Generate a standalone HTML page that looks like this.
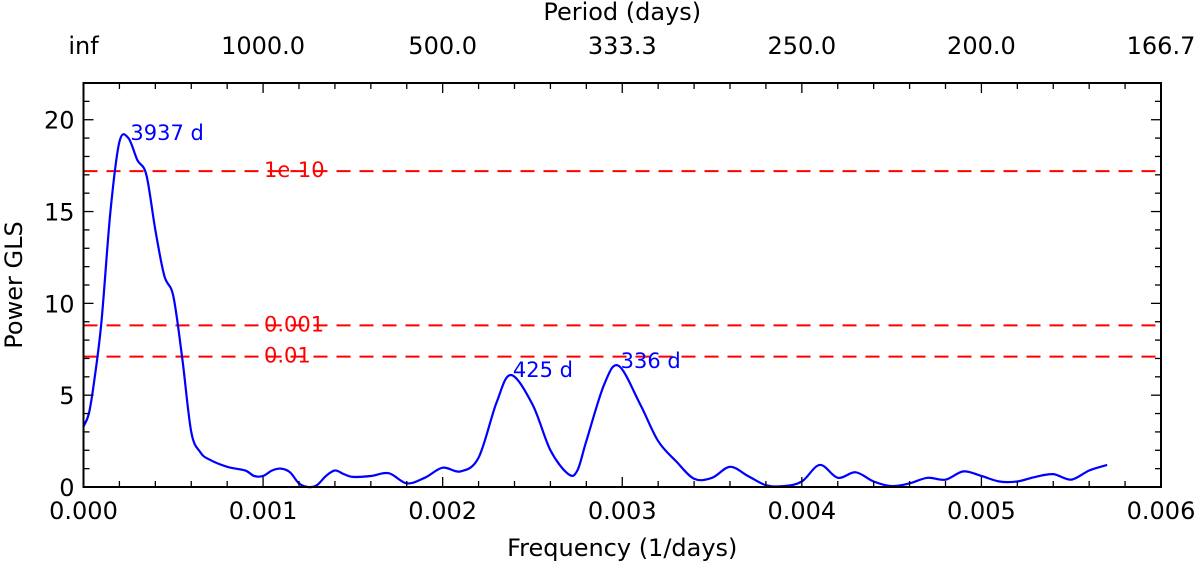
<!DOCTYPE html>
<html><head><meta charset="utf-8"><style>
html,body{margin:0;padding:0;background:#fff;}
svg text{font-family:"DejaVu Sans","Liberation Sans",sans-serif;}
</style></head><body>
<svg id="chart" width="1200" height="563" viewBox="0 0 1200 563" xmlns="http://www.w3.org/2000/svg">
<g id="plot"></g>
</svg>
<script>
const freqs=[0,0.00003,0.00006,0.0001,0.00015,0.0002,0.00025,0.0003,0.00035,0.0004,0.00045,0.0005,0.00055,0.0006,0.00065,0.0007,0.0008,0.0009,0.00095,0.001,0.00105,0.0011,0.00115,0.0012,0.00125,0.0013,0.00135,0.0014,0.00145,0.0015,0.0016,0.0017,0.0018,0.0019,0.002,0.0021,0.0022,0.0023,0.00238,0.0025,0.0026,0.0027,0.00275,0.0028,0.0029,0.00298,0.0031,0.0032,0.0033,0.0034,0.0035,0.0036,0.0037,0.0038,0.0039,0.004,0.0041,0.0042,0.0043,0.0044,0.0045,0.0046,0.0047,0.0048,0.0049,0.005,0.0051,0.0052,0.0053,0.0054,0.0055,0.0056,0.0057];
const power=[3.3,4,5.8,9,15,18.8,19.0,17.8,17,14,11.5,10.4,7,3,1.9,1.5,1.1,0.9,0.6,0.6,0.9,1.0,0.8,0.2,0,0.1,0.6,0.9,0.7,0.55,0.6,0.75,0.2,0.5,1.05,0.85,1.6,4.6,6.1,4.5,2.0,0.7,0.9,2.5,5.6,6.6,4.5,2.5,1.4,0.45,0.5,1.1,0.6,0.1,0.05,0.3,1.2,0.5,0.8,0.3,0.05,0.2,0.5,0.4,0.85,0.6,0.3,0.3,0.55,0.7,0.4,0.9,1.2];
const yTicks=[0,5,10,15,20];
const xTicks=[0,0.001,0.002,0.003,0.004,0.005,0.006];
const xTickLabels=["0.000","0.001","0.002","0.003","0.004","0.005","0.006"];
const periodTickLabels=["inf","1000.0","500.0","333.3","250.0","200.0","166.7"];
const fapLevels=[17.2,8.8,7.1];
const fapLabels=["1e-10","0.001","0.01"];
const peakFreqs=[0.00025,0.00238,0.00298];
const peakPowers=[19.0,6.1,6.6];
const peakLabels=["3937 d","425 d","336 d"];

const L=83.5,R=1161,T=83,B=487;
const X=f=>L+(f/0.006)*(R-L);
const Y=p=>B-(p/22)*(B-T);
const NS="http://www.w3.org/2000/svg";
const g=document.getElementById('plot');
function el(tag,attrs,text){const e=document.createElementNS(NS,tag);for(const k in attrs)e.setAttribute(k,attrs[k]);if(text!==undefined)e.textContent=text;g.appendChild(e);return e;}

fapLevels.forEach((v,i)=>{
  const l=el('line',{x1:L,x2:R,y1:Y(v),y2:Y(v),stroke:'#ff0000','stroke-width':2,'stroke-dasharray':'14,9'});
  
  
  const t=el('text',{x:264,y:Y(v)+6,fill:'#ff0000','font-size':21},fapLabels[i]);
  
  
});

const pts=freqs.map((f,i)=>[X(f),Y(power[i])]);
let d='M'+pts[0][0]+','+pts[0][1];
for(let i=0;i<pts.length-1;i++){
  const p0=pts[Math.max(0,i-1)],p1=pts[i],p2=pts[i+1],p3=pts[Math.min(pts.length-1,i+2)];
  const c1=[p1[0]+(p2[0]-p0[0])/6,p1[1]+(p2[1]-p0[1])/6];
  const c2=[p2[0]-(p3[0]-p1[0])/6,p2[1]-(p3[1]-p1[1])/6];
  d+=` C${c1[0]},${c1[1]} ${c2[0]},${c2[1]} ${p2[0]},${p2[1]}`;
}
const c=el('path',{d:d,fill:'none',stroke:'#0000ff','stroke-width':2.2});



peakLabels.forEach((s,i)=>{
  const t=el('text',{x:X(peakFreqs[i])+2,y:Y(peakPowers[i])+2,fill:'#0000ff','font-size':21},s);
  
  
});

const fr=el('rect',{x:L,y:T,width:R-L,height:B-T,fill:'none',stroke:'#000','stroke-width':2});



for(let f=0;f<=0.0060001;f+=0.0002){
  const major=Math.abs(f/0.001-Math.round(f/0.001))<1e-6;const len=major?10:6;
  el('line',{x1:X(f),x2:X(f),y1:B,y2:B-len,stroke:'#000','stroke-width':1.3});
  el('line',{x1:X(f),x2:X(f),y1:T,y2:T+len,stroke:'#000','stroke-width':1.3});
}
for(let p=0;p<=22;p++){
  const len=p%5===0?10:6;
  el('line',{x1:L,x2:L+len,y1:Y(p),y2:Y(p),stroke:'#000','stroke-width':1.3});
  el('line',{x1:R,x2:R-len,y1:Y(p),y2:Y(p),stroke:'#000','stroke-width':1.3});
}
xTicks.forEach((f,i)=>{
  const t=el('text',{x:X(f),y:B+32,'text-anchor':'middle','font-size':24},xTickLabels[i]);
  
  
  const t2=el('text',{x:X(f),y:T-29,'text-anchor':'middle','font-size':24},periodTickLabels[i]);
  
  
});
yTicks.forEach(v=>{
  const t=el('text',{x:L-9,y:Y(v)+9,'text-anchor':'end','font-size':24},String(v));
  
  
});
const xt=el('text',{x:(L+R)/2,y:556,'text-anchor':'middle','font-size':24},'Frequency (1/days)');


const tt=el('text',{x:(L+R)/2,y:20,'text-anchor':'middle','font-size':24},'Period (days)');


const yt=el('text',{x:0,y:0,'text-anchor':'middle','font-size':24,transform:`translate(22,${(T+B)/2}) rotate(-90)`},'Power GLS');


</script>
</body></html>
